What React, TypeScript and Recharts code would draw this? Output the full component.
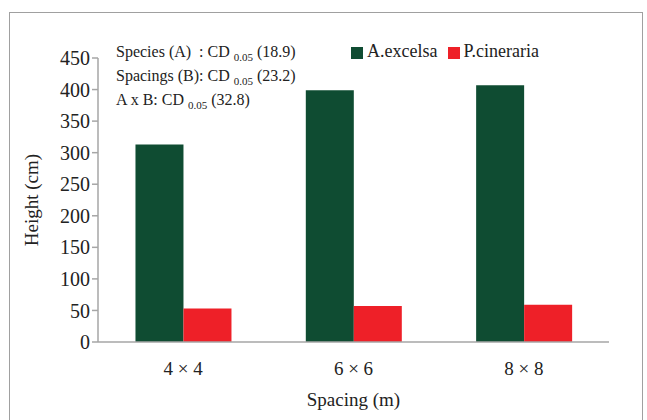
import React from "react";
import { BarChart, Bar, XAxis, YAxis, Legend } from "recharts";

const spacings = ["4 × 4", "6 × 6", "8 × 8"];
const excelsa = [313, 399, 407];
const cineraria = [53, 57, 59];
const yTicks = [0, 50, 100, 150, 200, 250, 300, 350, 400, 450];

const data = spacings.map((s, i) => ({
  spacing: s,
  excelsa: excelsa[i],
  cineraria: cineraria[i],
}));

const FONT = "'Liberation Serif', 'Times New Roman', Times, serif";
const AXIS = "#a6a6a6";

const notes = [
  { pre: "Species (A)  : CD ", val: "(18.9)" },
  { pre: "Spacings (B): CD ", val: "(23.2)" },
  { pre: "A x B: CD ", val: "(32.8)" },
];

export default function App() {
  return (
    <div
      style={{
        position: "absolute",
        left: 0,
        top: 0,
        width: 647,
        height: 420,
        overflow: "hidden",
        background: "#fff",
        fontFamily: FONT,
      }}
    >
      <div
        style={{
          position: "absolute",
          left: 9,
          top: 12,
          width: 634,
          height: 420,
          border: "1.5px solid #a0a0a0",
          boxSizing: "border-box",
        }}
      />
      <BarChart
        width={647}
        height={420}
        data={data}
        margin={{ top: 58, right: 38, bottom: 8, left: 38 }}
        barCategoryGap="22%"
        barGap={0}
        style={{ fontFamily: FONT }}
      >
        <XAxis
          dataKey="spacing"
          height={70}
          tickLine={false}
          tickMargin={14}
          axisLine={{ stroke: AXIS, strokeWidth: 1.5 }}
          tick={{ fill: "#222", fontSize: 19, fontFamily: FONT }}
          label={{
            value: "Spacing (m)",
            position: "insideBottom",
            offset: 6,
            fill: "#222",
            fontSize: 19,
            fontFamily: FONT,
          }}
        />
        <YAxis
          width={60}
          domain={[0, 450]}
          ticks={yTicks}
          interval={0}
          tickSize={6}
          axisLine={{ stroke: AXIS, strokeWidth: 1.5 }}
          tickLine={{ stroke: AXIS, strokeWidth: 1.5 }}
          tick={{ fill: "#222", fontSize: 20, fontFamily: FONT }}
        />
        <Legend
          layout="horizontal"
          verticalAlign="middle"
          align="center"
          iconType="square"
          iconSize={12}
          wrapperStyle={{
            top: 41,
            left: 350,
            width: 200,
            fontFamily: FONT,
            fontSize: 18,
          }}
          formatter={(value) => <span style={{ color: "#222" }}>{value}</span>}
        />
        <Bar dataKey="excelsa" name="A.excelsa" fill="#0f4c32" isAnimationActive={false} />
        <Bar dataKey="cineraria" name="P.cineraria" fill="#ee2028" isAnimationActive={false} />
      </BarChart>
      {notes.map((n, i) => (
        <div
          key={i}
          style={{
            position: "absolute",
            left: 116,
            top: 42 + i * 24,
            fontSize: 16,
            color: "#222",
            whiteSpace: "pre",
            lineHeight: "20px",
          }}
        >
          {n.pre}
          <sub style={{ fontSize: 11 }}>0.05</sub> {n.val}
        </div>
      ))}
      <div
        style={{
          position: "absolute",
          left: 32,
          top: 200,
          transform: "translate(-50%, -50%) rotate(-90deg)",
          fontSize: 19,
          color: "#222",
          whiteSpace: "nowrap",
        }}
      >
        Height (cm)
      </div>
    </div>
  );
}
